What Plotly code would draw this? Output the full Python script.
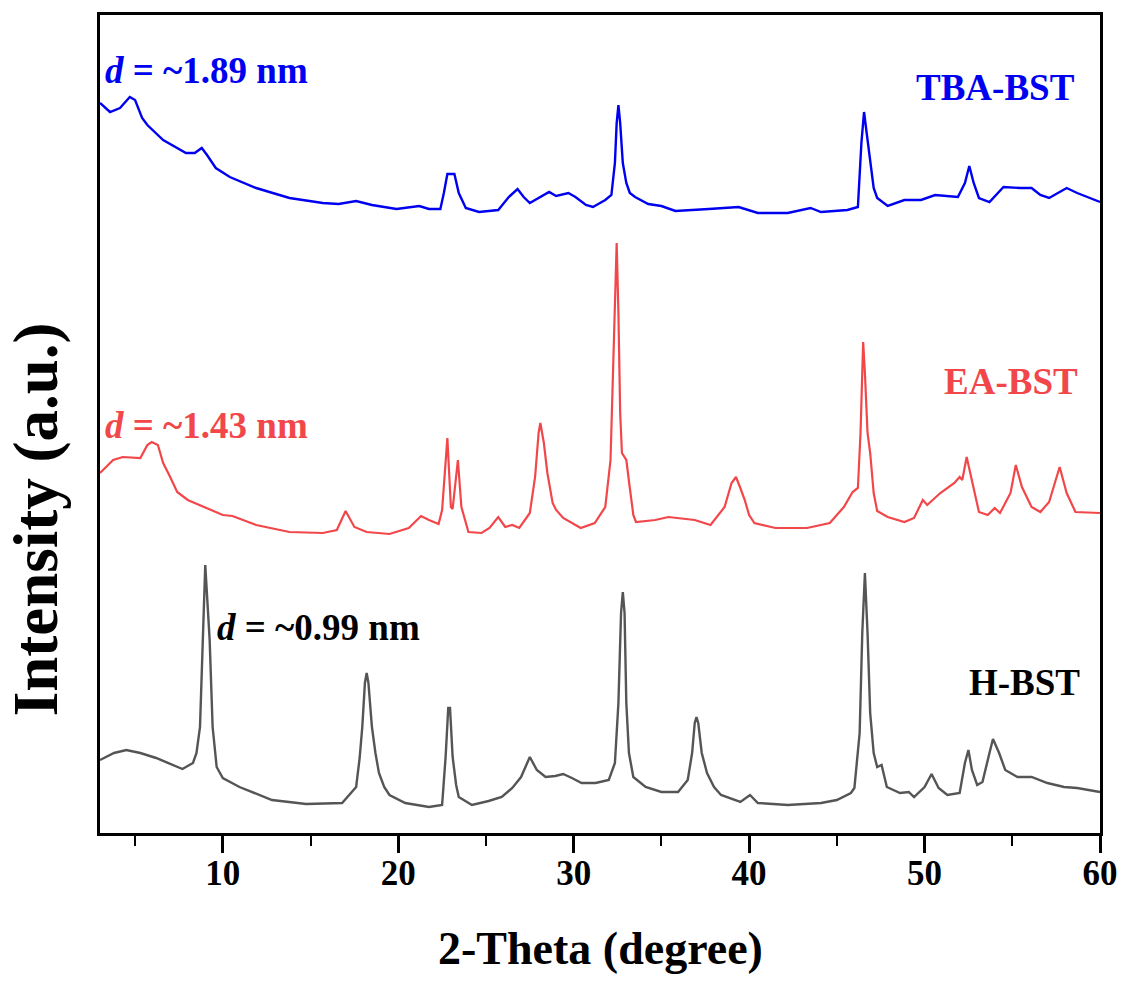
import plotly.graph_objects as go

# ---- data (2-theta in degrees, intensity in arbitrary units incl. stacking offset) ----
tba_x = [3.0, 3.57, 4.14, 4.7, 5.0, 5.4, 5.7, 6.6, 7.9, 8.4, 8.8, 9.1, 9.6, 10.4, 11.9, 13.8, 15.7, 16.6, 17.6,
         18.5, 19.9, 21.2, 21.75, 22.4, 22.6, 22.8, 23.2, 23.45, 23.85, 24.6, 25.7, 26.3, 26.8, 27.15, 27.5, 28.6,
         29.0, 29.7, 30.1, 30.7, 31.1, 31.8, 32.15, 32.35, 32.45, 32.55, 32.65, 32.8, 33.0, 33.2, 33.5, 34.25,
         35.0, 35.8, 37.7, 39.4, 40.5, 42.2, 43.5, 44.1, 45.6, 46.2, 46.4, 46.55, 46.7, 46.9, 47.1, 47.3, 47.9,
         48.85, 49.8, 50.6, 51.9, 52.3, 52.55, 52.8, 53.1, 53.7, 54.5, 55.45, 56.1, 56.6, 57.1, 58.1, 58.7, 60.0]
tba_y = [730, 721, 725, 736, 733, 715, 708, 693, 680, 680, 685, 678, 665, 656, 645, 635, 630, 629, 632,
         628, 624, 627, 624, 624, 640, 659, 659, 640, 625, 621, 623, 636, 644, 636, 630, 641,
         637, 640, 636, 628, 626, 633, 638, 670, 710, 728, 710, 670, 650, 640, 636, 629,
         627, 622, 624, 626, 620, 620, 625, 621, 623, 626, 690, 721, 700, 670, 645, 635, 627,
         633, 633, 638, 636, 650, 667, 650, 635, 631, 646, 645, 645, 638, 635, 645, 640, 631]

ea_x = [3.0, 3.75, 4.3, 5.3, 5.7, 5.95, 6.3, 6.6, 7.0, 7.4, 8.0, 8.7, 10.0, 10.55, 11.9, 13.8, 15.7, 16.5, 17.0,
        17.5, 18.2, 19.5, 20.6, 21.3, 21.75, 22.3, 22.5, 22.8, 23.0, 23.1, 23.4, 23.6, 24.0, 24.75, 25.2, 25.7,
        26.1, 26.5, 26.9, 27.5, 27.8, 28.0, 28.1, 28.3, 28.5, 28.8, 29.0, 29.4, 30.4, 31.2, 31.8, 32.1, 32.3,
        32.45, 32.55, 32.65, 32.75, 33.0, 33.2, 33.4, 33.55, 34.65, 35.4, 36.9, 37.8, 38.6, 39.0, 39.25, 39.5,
        39.75, 40.0, 40.3, 41.5, 42.2, 43.3, 44.6, 45.4, 45.9, 46.2, 46.35, 46.45, 46.5, 46.6, 46.75, 46.9,
        47.1, 47.3, 47.9, 48.85, 49.4, 49.9, 50.15, 50.9, 51.7, 52.0, 52.15, 52.4, 52.7, 53.1, 53.6, 54.0,
        54.3, 54.9, 55.2, 55.55, 56.1, 56.6, 57.1, 57.7, 58.1, 58.6, 60.0]
ea_y = [360, 373, 376, 375, 388, 391, 388, 370, 356, 341, 333, 328, 318, 317, 308, 301, 300, 303, 322,
        306, 301, 299, 305, 317, 313, 309, 323, 395, 326, 324, 373, 326, 301, 300, 305, 316,
        306, 308, 305, 320, 356, 400, 410, 390, 360, 330, 323, 315, 305, 310, 326, 373, 490,
        590, 520, 420, 380, 373, 345, 318, 311, 313, 316, 313, 308, 326, 350, 356, 345,
        333, 318, 310, 305, 305, 305, 310, 326, 341, 345, 400, 480, 491, 460, 400, 380,
        340, 322, 316, 311, 315, 333, 328, 340, 350, 356, 353, 376, 353, 321, 318, 325,
        320, 340, 368, 346, 326, 321, 331, 366, 340, 321, 320]

h_x = [3.0, 3.8, 4.5, 5.3, 6.2, 7.7, 8.3, 8.5, 8.7, 8.85, 9.0, 9.25, 9.42, 9.65, 10.0, 10.95, 12.8, 14.75, 16.8,
       17.6, 17.8, 17.95, 18.1, 18.2, 18.3, 18.5, 18.7, 18.9, 19.2, 19.5, 20.4, 21.75, 22.5, 22.7, 22.85,
       22.95, 23.1, 23.3, 23.45, 24.2, 25.15, 25.9, 26.5, 27.0, 27.5, 27.9, 28.4, 28.95, 29.4, 29.9, 30.45,
       31.25, 32.0, 32.35, 32.55, 32.7, 32.8, 32.9, 33.0, 33.15, 33.4, 34.1, 35.0, 35.95, 36.5, 36.75, 36.9,
       37.0, 37.1, 37.3, 37.6, 38.0, 38.4, 39.5, 40.05, 40.5, 42.2, 44.1, 45.0, 45.8, 46.0, 46.3, 46.45, 46.6,
       46.75, 46.9, 47.1, 47.3, 47.55, 47.85, 48.6, 49.1, 49.4, 50.0, 50.4, 50.8, 51.3, 52.0, 52.3, 52.5,
       52.7, 53.0, 53.3, 53.7, 53.9, 54.25, 54.6, 55.3, 56.1, 57.0, 57.95, 58.7, 60.0]
h_y = [73, 80, 83, 80, 75, 64, 70, 80, 106, 193, 268, 193, 106, 66, 55, 46, 33, 29, 30,
       46, 75, 106, 150, 160, 150, 106, 80, 60, 46, 38, 30, 26, 28, 76, 125,
       125, 76, 48, 36, 28, 32, 36, 45, 56, 76, 63, 56, 57, 59, 55, 50,
       50, 53, 70, 130, 220, 241, 220, 130, 80, 56, 46, 41, 41, 53, 80, 110,
       116, 110, 80, 60, 46, 38, 31, 38, 30, 28, 30, 33, 40, 45, 100, 200, 260,
       200, 120, 80, 66, 68, 46, 40, 41, 36, 46, 59, 45, 38, 40, 70, 83,
       63, 48, 51, 80, 94, 80, 63, 56, 56, 50, 46, 45, 41]

x_ticks = [10, 20, 30, 40, 50, 60]

FONT = "Liberation Serif"
BLUE = "#0000F0"
RED = "#F2474A"
GRAY = "#555555"

fig = go.Figure()
fig.add_trace(go.Scatter(x=h_x, y=h_y, mode="lines", name="H-BST",
                         line=dict(color=GRAY, width=2.4)))
fig.add_trace(go.Scatter(x=ea_x, y=ea_y, mode="lines", name="EA-BST",
                         line=dict(color=RED, width=2.2)))
fig.add_trace(go.Scatter(x=tba_x, y=tba_y, mode="lines", name="TBA-BST",
                         line=dict(color=BLUE, width=2.4)))

def label(text, x, y, color, anchor):
    fig.add_annotation(x=x, y=y, xref="x", yref="y", text=text, showarrow=False,
                       xanchor=anchor, yanchor="middle",
                       font=dict(family=FONT, size=37, color=color, weight="bold"))

label("<i>d</i> = ~1.89 nm", 3.15, 763, BLUE, "left")
label("<i>d</i> = ~1.43 nm", 3.15, 408, RED, "left")
label("<i>d</i> = ~0.99 nm", 9.55, 206, "black", "left")
label("TBA-BST", 58.7, 746, BLUE, "right")
label("EA-BST", 58.85, 452, RED, "right")
label("H-BST", 59.0, 151, "black", "right")

fig.add_annotation(x=0.5, y=-0.1406, xref="paper", yref="paper", text="2-Theta (degree)",
                   showarrow=False, xanchor="center", yanchor="middle",
                   font=dict(family=FONT, size=46, color="black", weight="bold"))
fig.add_annotation(x=-0.0646, y=0.384, xref="paper", yref="paper", text="Intensity (a.u.)",
                   showarrow=False, xanchor="center", yanchor="middle", textangle=-90,
                   font=dict(family=FONT, size=63, color="black", weight="bold"))

fig.update_layout(
    width=1130, height=985,
    margin=dict(l=100, r=24, t=15, b=152),
    paper_bgcolor="white", plot_bgcolor="white",
    showlegend=False,
    font=dict(family=FONT, color="black"),
)
fig.update_xaxes(range=[3, 60], tickvals=x_ticks, ticks="outside", ticklen=17, tickwidth=2.5,
                 tickcolor="black", showline=True, linecolor="black", linewidth=2.5, mirror=True,
                 showgrid=False, zeroline=False, ticklabelstandoff=-10,
                 tickfont=dict(family=FONT, size=35, color="black", weight="bold"),
                 minor=dict(dtick=5, tick0=0, ticks="outside", ticklen=10, tickwidth=2.2, tickcolor="black",
                            showgrid=False))
fig.update_yaxes(range=[0, 818], showticklabels=False, ticks="", showline=True, linecolor="black",
                 linewidth=2.5, mirror=True, showgrid=False, zeroline=False)

fig.write_html("out.html")
